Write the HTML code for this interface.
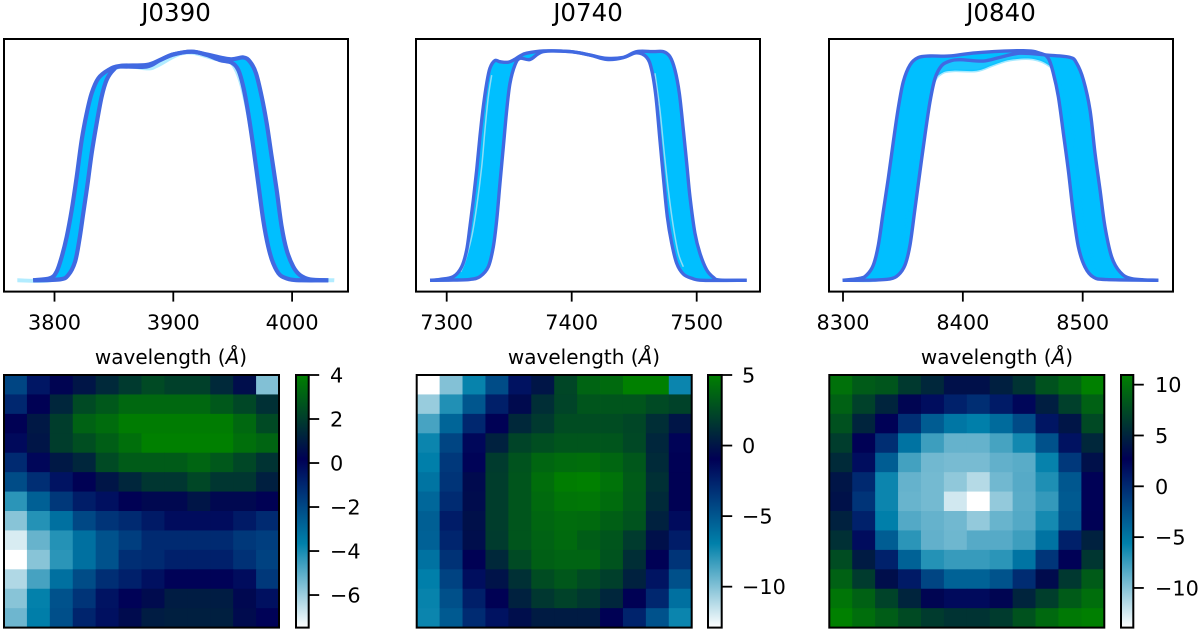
<!DOCTYPE html>
<html lang="en">
<head>
<meta charset="utf-8">
<title>Filter transmission curves and zero-point maps</title>
<style>
  html, body { margin: 0; padding: 0; background: #fff; }
  svg { display: block; }
  text { font-family: "DejaVu Sans", "Liberation Sans", sans-serif; fill: #000; }
</style>
</head>
<body>
<svg id="figure" width="1200" height="632" viewBox="0 0 1200 632" xmlns="http://www.w3.org/2000/svg">
  <rect x="0" y="0" width="1200" height="632" fill="#fff"/>
  <g id="marks"></g>

  <text x="176" y="21" font-size="24.5" text-anchor="middle">J0390</text>
  <text x="588" y="21" font-size="24.5" text-anchor="middle">J0740</text>
  <text x="1001" y="21" font-size="24.5" text-anchor="middle">J0840</text>

  <text x="171" y="364" font-size="20" text-anchor="middle">wavelength (<tspan font-style="italic">Å</tspan>)</text>
  <text x="584" y="364" font-size="20" text-anchor="middle">wavelength (<tspan font-style="italic">Å</tspan>)</text>
  <text x="997" y="364" font-size="20" text-anchor="middle">wavelength (<tspan font-style="italic">Å</tspan>)</text>
</svg>

<script>
// ---------- data: categories ----------
const filterNames = ['J0390', 'J0740', 'J0840'];

// ---------- data: x tick labels ----------
const xTicksJ0390 = [3800, 3900, 4000];
const xTicksJ0740 = [7300, 7400, 7500];
const xTicksJ0840 = [8300, 8400, 8500];

// ---------- data: colorbar ticks and ranges ----------
const cbarTicksJ0390 = [4, 2, 0, -2, -4, -6];
const cbarTicksJ0740 = [5, 0, -5, -10];
const cbarTicksJ0840 = [10, 5, 0, -5, -10];
const cbarRangeJ0390 = [-7.48, 4];
const cbarRangeJ0740 = [-12.9, 5];
const cbarRangeJ0840 = [-13.9, 10.95];

// ---------- data: J0390 transmission curves ----------
const lamJ0390A = [3782,3796.2,3801.8,3806.1,3810.3,3814.5,3818.7,3822.9,3827.1,3831.3,3836.9,3845.3,3855.1,3877.5,3889,3900,3915.5,3928,3939,3949.2,3954.7,3958.9,3963.1,3967.3,3971.5,3975.7,3979.9,3984.1,3989.8,3998.2,4008,4030.5];
const trnJ0390A = [0,.009,.038,.103,.19,.307,.452,.612,.728,.816,.881,.917,.935,.939,.961,.985,.997,.983,.961,.949,.917,.844,.728,.583,.423,.263,.147,.074,.023,.004,0,0];
const lamJ0390B = [3782,3804.6,3811.6,3817.3,3820.9,3824.2,3827.9,3831.3,3835.5,3839.7,3843.9,3849.5,3855.1,3877.5,3889,3900,3915.5,3928,3947.7,3958.9,3964.6,3969.6,3974.4,3978.6,3982.8,3987,3991.2,3995.4,4001,4006.6,4015.1,4030.5];
const trnJ0390B = [0,.004,.023,.081,.176,.292,.423,.554,.685,.801,.874,.917,.932,.932,.961,.985,.997,.985,.964,.972,.953,.903,.801,.685,.539,.394,.234,.132,.059,.023,.004,0];
const lamJ0390C = [3768.7,3799,3813,3821.5,3830,3838.3,3855,3877.6,3886,3902.8,3915.5,3933.7,3950.5,3961.8,3973,3984.2,3995.4,4035.5];
const trnJ0390C = [0,.003,.073,.349,.684,.859,.932,.924,.935,.982,.993,.968,.939,.757,.408,.101,.014,0];

// ---------- data: J0740 transmission curves ----------
const lamJ0740A = [7286.7,7294.6,7305.3,7312,7316,7318.6,7321.3,7324,7326.6,7329.3,7332,7334.6,7338.6,7342.6,7349.3,7354.6,7358.6,7364,7377.3,7398.7,7414.7,7428,7441.3,7452,7460,7464,7467.4,7470.6,7473.3,7476.5,7480,7484,7489.3,7496,7505.3,7540];
const trnJ0740A = [0,.004,.016,.059,.132,.233,.349,.479,.624,.754,.855,.921,.954,.949,.947,.96,.974,.986,.996,.993,.978,.964,.968,.988,.968,.913,.797,.609,.45,.276,.161,.074,.027,.009,0,0];
const lamJ0740B = [7286.7,7305.3,7318.6,7326.6,7333.3,7337.3,7340,7342.6,7345.3,7348,7350.6,7354.6,7358.6,7366.7,7377.3,7398.7,7414.7,7428,7441.3,7452,7465.3,7473.3,7478.6,7482.6,7486.1,7489.3,7492,7494.6,7498.6,7502.6,7508,7513.3,7518.6,7540];
const trnJ0740B = [0,.001,.004,.016,.059,.146,.262,.421,.58,.739,.855,.935,.964,.959,.993,.993,.978,.959,.967,.993,.993,.993,.971,.913,.812,.653,.508,.363,.204,.117,.045,.013,.001,0];
const lamJ0740C = [7311.2,7314.6,7320,7324,7328,7330.6,7333.3,7336];
const trnJ0740C = [.037,.081,.189,.32,.493,.653,.797,.891];
const lamJ0740D = [7466.6,7470.6,7473.8,7477.3,7481.3,7485.3,7489.3];
const trnJ0740D = [.899,.739,.566,.392,.233,.117,.059];

// ---------- data: J0840 transmission curves ----------
const lamJ0840A = [8299.7,8314.2,8319.8,8325.3,8329.5,8333.6,8337.8,8342,8346.1,8350.3,8355.9,8362.8,8372.6,8389.3,8411.5,8450.5,8464.4,8471.3,8475.5,8479.7,8483.9,8488,8492.2,8496.4,8501.9,8508.9,8520,8563.1];
const trnJ0840A = [0,.009,.023,.066,.153,.298,.443,.602,.747,.862,.935,.967,.974,.974,.988,.997,.986,.964,.899,.797,.638,.478,.29,.145,.058,.014,.003,0];
const lamJ0840B = [8299.7,8325.3,8339.2,8346.1,8351.7,8355.9,8360.1,8364.2,8368.4,8372.6,8376.8,8382.3,8389.3,8397.6,8417.1,8431,8447.7,8470,8489.4,8495,8500.6,8506.1,8510.3,8514.5,8518.6,8524.2,8531.2,8540.9,8563.1];
const trnJ0840B = [0,.001,.006,.023,.066,.153,.313,.472,.631,.776,.877,.932,.952,.958,.952,.968,.986,.978,.968,.942,.87,.739,.551,.391,.232,.101,.036,.007,0];
const lamJ0840C = [8299.7,8330.9,8344.8,8355.9,8367,8375.4,8382.3,8392,8411.5,8425.5,8439.4,8458.8,8472.7,8481,8492.2,8500.6,8507.5,8517.2,8563.1];
const trnJ0840C = [0,.003,.058,.348,.71,.855,.899,.91,.91,.935,.957,.961,.93,.87,.638,.29,.101,.014,0];

// ---------- data: heat maps (13 rows x 12 columns) ----------
const heatJ0390 = [
  [-1.9,-0.5,0.3,0.8,1.4,1.9,2.4,2.1,2.1,1.4,0.6,-5.6],
  [-1.0,0.2,1.3,2.4,2.8,3.3,3.3,3.3,3.3,2.8,2.3,1.6],
  [0.2,0.9,2.0,3.1,3.4,3.9,3.9,3.9,3.9,3.9,3.3,2.4],
  [-0.1,0.8,2.0,2.5,3.0,3.5,4,4,4,4,3.5,3.2],
  [-1.1,0.0,0.9,1.3,2.4,2.9,2.9,2.9,3.2,2.8,2.3,1.7],
  [-2.1,-1.2,-0.4,0.2,0.8,1.3,1.8,1.8,2.3,1.8,1.8,1.1],
  [-4.3,-2.7,-1.5,-0.7,-0.3,0.2,0.4,0.4,0.8,0.4,0.4,0.2],
  [-5.7,-4.2,-3.2,-2.0,-1.4,-1.1,-0.6,-0.2,-0.2,-0.2,-0.6,-1.1],
  [-6.9,-5.2,-4.2,-3.2,-2.3,-1.7,-1.1,-1.1,-1.1,-1.1,-1.5,-1.7],
  [-7.48,-5.7,-4.3,-3.2,-2.3,-1.2,-1.1,-0.8,-0.8,-0.8,-1.3,-1.8],
  [-6.3,-4.7,-3.2,-2.1,-1.2,-0.8,-0.3,0.1,0.1,0.1,-0.2,-1.5],
  [-5.7,-3.7,-2.3,-1.4,-0.4,0.1,0.5,1.0,1.0,1.0,0.4,-0.3],
  [-5.3,-3.6,-2.2,-0.9,-0.3,0.5,1.0,1.1,1.1,1.1,0.5,0.1]
];
const heatJ0740 = [
  [-12.9,-10,-7.1,-4.5,-1.8,0,2.3,3.7,4.0,5,5,-7.2],
  [-10.5,-7.7,-5,-2.4,-0.5,1.2,2.2,3.0,3.0,3.0,2.5,2.1],
  [-8.6,-5.7,-2.8,-1.0,0.9,1.7,2.6,2.6,2.6,2.3,1.2,0],
  [-7.2,-4.2,-1.3,0.6,2.2,2.7,3.0,3.0,3.0,2.4,0.8,-1.1],
  [-6.9,-3.6,-1.1,1.8,2.9,3.8,4.1,4.2,3.8,3.1,1.0,-1.0],
  [-6.4,-3.4,-0.5,1.9,3.0,4.2,4.9,5,4.4,3.3,1.3,-0.9],
  [-5.8,-3.0,-0.4,1.9,3.0,4.0,4.5,4.6,4.1,3.2,1.0,-0.9],
  [-5.4,-2.3,-0.2,1.9,3.0,3.8,4.1,4.0,3.5,2.9,0.6,-1.5],
  [-5.5,-2.7,-0.3,1.8,3.0,3.6,4.0,3.4,3.0,1.8,-0.2,-2.3],
  [-6.3,-3.3,-0.9,0.9,2.5,3.5,3.7,3.7,2.9,1.2,-1.0,-3.4],
  [-6.9,-4.1,-1.6,-0.1,1.3,2.6,3.1,2.5,2.0,0.6,-1.9,-4.7],
  [-7.1,-4.7,-2.4,-0.9,0.6,1.6,2.1,1.6,0.8,-0.9,-2.8,-6.2],
  [-7.2,-5.2,-3.0,-1.8,-0.3,0.3,0.3,0.3,-0.9,-2.6,-4.8,-7.2]
];
const heatJ0840 = [
  [10,8.6,8.2,6.4,5.2,3.7,3.7,4.7,6.0,8.0,9.2,10.95],
  [9,6.9,5,3,1.8,0.5,-0.3,0.9,2.3,4.6,6.8,9],
  [7.9,5,2.6,-0.4,-3.3,-5,-5.6,-4.3,-2.2,1.3,4.0,7.4],
  [6.6,2.7,-0.3,-4.8,-7.6,-8.9,-8.9,-7.9,-6.2,-2.6,1.5,5.2],
  [5.4,1.8,-3.4,-7.8,-9.3,-9.5,-9.5,-8.8,-8.5,-5.8,-1,3.7],
  [4,0,-6,-8.9,-9.4,-10.3,-11.5,-9.3,-8.4,-6.6,-3,2.6],
  [3.8,-0.7,-6,-9,-9.4,-12.4,-13.9,-10.4,-8.5,-7.3,-3.2,2.6],
  [4.8,0.5,-5.6,-8.3,-8.9,-9.3,-10.4,-9,-8.3,-6.3,-2.8,2.7],
  [5.8,1.9,-3.4,-7,-8.8,-9.2,-8.4,-8.4,-7.6,-4.8,0.6,4.8],
  [7.6,4.4,0.5,-3.7,-6.8,-7.4,-7.4,-7,-4.9,-0.8,2.6,6.2],
  [9,6.5,3.6,1,-1.8,-3.7,-3.7,-2.7,-0.2,3.4,6.3,8.6],
  [10.3,9,7,5,3,2,2,3,5,6.7,8.6,9.8],
  [10.95,9.8,8.7,7.5,6.5,6,6,6.5,8,9.5,10.5,10.9]
];

// ---------- layout (separate from data) ----------
const panels = [
  { name: filterNames[0], curveBox: [4, 348], xOrigin: 3800, xAt: 54.5, xPerUnit: 1.188, yTop: 51, lineW: 4.2, lam: [lamJ0390A, lamJ0390B], trn: [trnJ0390A, trnJ0390B], pale: [[lamJ0390C, trnJ0390C]], paleColor: '#00bfff', paleOpacity: 0.3, paleW: 4, bleed: false, ticks: xTicksJ0390, heat: heatJ0390, heatBox: [4, 279], cbarBox: [296, 308.7], cbarTicks: cbarTicksJ0390, range: cbarRangeJ0390, cbarLabelX: 330 },
  { name: filterNames[1], curveBox: [416, 760], xOrigin: 7300, xAt: 446.7, xPerUnit: 1.25, yTop: 50, lineW: 3.4, lam: [lamJ0740A, lamJ0740B], trn: [trnJ0740A, trnJ0740B], pale: [[lamJ0740C, trnJ0740C], [lamJ0740D, trnJ0740D]], paleColor: '#8fdcf6', paleOpacity: 1, paleW: 1.5, bleed: false, ticks: xTicksJ0740, heat: heatJ0740, heatBox: [416.7, 691.7], cbarBox: [708, 721.7], cbarTicks: cbarTicksJ0740, range: cbarRangeJ0740, cbarLabelX: 742 },
  { name: filterNames[2], curveBox: [829, 1173], xOrigin: 8300, xAt: 843, xPerUnit: 1.1985, yTop: 50, lineW: 3.4, lam: [lamJ0840A, lamJ0840B], trn: [trnJ0840A, trnJ0840B], pale: [[lamJ0840C, trnJ0840C]], paleColor: '#00bfff', paleOpacity: 0.35, paleW: 3, bleed: true, ticks: xTicksJ0840, heat: heatJ0840, heatBox: [829.3, 1104.3], cbarBox: [1121, 1133.3], cbarTicks: cbarTicksJ0840, range: cbarRangeJ0840, cbarLabelX: 1155 }
];
const curveTop = 39, curveBottom = 291.6, baselineY = 280.3;
const mapTop = 375, mapBottom = 627.6;
const frameW = 2;
const tickW = 1.8;
const tickFont = 20.8;
const SVGNS = 'http://www.w3.org/2000/svg';
const root = document.getElementById('marks');
const defs = document.createElementNS(SVGNS, 'defs');
root.appendChild(defs);

// ---------- helpers ----------
function make(tag, parent) {
  const el = document.createElementNS(SVGNS, tag);
  parent.appendChild(el);
  return el;
}
function clamp01(v) { return Math.max(0, Math.min(1, v)); }
// matplotlib ocean_r colormap: t = 0 -> white, t = 1 -> green
function oceanR(t) {
  const x = 1 - clamp01(t);
  const r = clamp01(3 * x - 2);
  const g = clamp01(Math.abs((3 * x - 1) / 2));
  const b = clamp01(x);
  return 'rgb(' + Math.round(r * 255) + ',' + Math.round(g * 255) + ',' + Math.round(b * 255) + ')';
}
function xScale(p, lam) { return p.xAt + (lam - p.xOrigin) * p.xPerUnit; }
function yScale(p, trn) { return baselineY - trn * (baselineY - p.yTop); }
function smoothPath(pts) {
  let d = '';
  for (let i = 0; i < pts.length - 1; i++) {
    const p0 = pts[Math.max(0, i - 1)], p1 = pts[i], p2 = pts[i + 1], p3 = pts[Math.min(pts.length - 1, i + 2)];
    const c1x = p1[0] + (p2[0] - p0[0]) / 6, c1y = p1[1] + (p2[1] - p0[1]) / 6;
    const c2x = p2[0] - (p3[0] - p1[0]) / 6, c2y = p2[1] - (p3[1] - p1[1]) / 6;
    d += ' C' + c1x.toFixed(2) + ' ' + c1y.toFixed(2) + ' ' + c2x.toFixed(2) + ' ' + c2y.toFixed(2) + ' ' + p2[0].toFixed(2) + ' ' + p2[1].toFixed(2);
  }
  return 'M' + pts[0][0].toFixed(2) + ' ' + pts[0][1].toFixed(2) + d;
}
function toPoints(p, lams, trns) {
  return lams.map(function (l, i) { return [xScale(p, l), yScale(p, trns[i])]; });
}
function minusLabel(v) { return v < 0 ? '\u2212' + Math.abs(v) : String(v); }

// ---------- draw ----------
panels.forEach(function (p) {
  const tag = p.name.toLowerCase();

  // curve panel
  const curveGroup = make('g', root);
  
  

  const ptsA = toPoints(p, p.lam[0], p.trn[0]);
  const ptsB = toPoints(p, p.lam[1], p.trn[1]);

  const band = make('path', curveGroup);
  
  
  band.setAttribute('d', smoothPath(ptsA) + ' L' + smoothPath(ptsB.slice().reverse()).slice(1) + ' Z');
  band.setAttribute('fill', '#00bfff');
  band.setAttribute('fill-rule', 'nonzero');

  if (p.bleed) {
    const ptsDip = toPoints(p, p.pale[0][0], p.pale[0][1]);
    const dip = make('path', curveGroup);
    
    
    dip.setAttribute('d', smoothPath(ptsB) + ' L' + smoothPath(ptsDip.slice().reverse()).slice(1) + ' Z');
    dip.setAttribute('fill', '#00bfff');
    dip.setAttribute('fill-opacity', '0.9');
  }

  p.pale.forEach(function (series) {
    const mid = make('path', curveGroup);
    
    
    mid.setAttribute('d', smoothPath(toPoints(p, series[0], series[1])));
    mid.setAttribute('fill', 'none');
    mid.setAttribute('stroke', p.paleColor);
    mid.setAttribute('stroke-opacity', p.paleOpacity);
    mid.setAttribute('stroke-width', p.paleW);
  });

  [ptsA, ptsB].forEach(function (pts) {
    const line = make('path', curveGroup);
    
    
    line.setAttribute('d', smoothPath(pts));
    line.setAttribute('fill', 'none');
    line.setAttribute('stroke', '#4169e1');
    line.setAttribute('stroke-width', p.lineW);
    line.setAttribute('stroke-linejoin', 'round');
  });

  const frame = make('rect', curveGroup);
  
  
  frame.setAttribute('x', p.curveBox[0]);
  frame.setAttribute('y', curveTop);
  frame.setAttribute('width', p.curveBox[1] - p.curveBox[0]);
  frame.setAttribute('height', curveBottom - curveTop);
  frame.setAttribute('fill', 'none');
  frame.setAttribute('stroke', '#000');
  frame.setAttribute('stroke-width', frameW);

  p.ticks.forEach(function (t) {
    const tx = xScale(p, t);
    const tick = make('line', curveGroup);
    
    
    tick.setAttribute('x1', tx);
    tick.setAttribute('x2', tx);
    tick.setAttribute('y1', curveBottom);
    tick.setAttribute('y2', curveBottom + 10);
    tick.setAttribute('stroke', '#000');
    tick.setAttribute('stroke-width', tickW);

    const label = make('text', curveGroup);
    
    
    label.setAttribute('x', tx);
    label.setAttribute('y', 329.3);
    label.setAttribute('font-size', tickFont);
    label.setAttribute('text-anchor', 'middle');
    label.textContent = String(t);
  });

  // heat map
  const heatGroup = make('g', root);
  
  
  const lo = p.range[0], hi = p.range[1];
  const nRows = p.heat.length, nCols = p.heat[0].length;
  const cw = (p.heatBox[1] - p.heatBox[0]) / nCols;
  const ch = (mapBottom - mapTop) / nRows;
  p.heat.forEach(function (row, r) {
    row.forEach(function (v, c) {
      const cell = make('rect', heatGroup);
      
      
      cell.setAttribute('x', p.heatBox[0] + c * cw);
      cell.setAttribute('y', mapTop + r * ch);
      cell.setAttribute('width', cw + 0.4);
      cell.setAttribute('height', ch + 0.4);
      cell.setAttribute('fill', oceanR((v - lo) / (hi - lo)));
    });
  });
  const heatFrame = make('rect', heatGroup);
  
  
  heatFrame.setAttribute('x', p.heatBox[0]);
  heatFrame.setAttribute('y', mapTop);
  heatFrame.setAttribute('width', p.heatBox[1] - p.heatBox[0]);
  heatFrame.setAttribute('height', mapBottom - mapTop);
  heatFrame.setAttribute('fill', 'none');
  heatFrame.setAttribute('stroke', '#000');
  heatFrame.setAttribute('stroke-width', frameW);

  // colorbar
  const cbarGroup = make('g', root);
  
  
  const grad = make('linearGradient', defs);
  grad.setAttribute('id', 'cbar-' + tag);
  grad.setAttribute('x1', '0');
  grad.setAttribute('y1', '1');
  grad.setAttribute('x2', '0');
  grad.setAttribute('y2', '0');
  [0, 1 / 3, 2 / 3, 1].forEach(function (t) {
    const stop = make('stop', grad);
    stop.setAttribute('offset', t);
    stop.setAttribute('stop-color', oceanR(t));
  });
  const bar = make('rect', cbarGroup);
  
  
  bar.setAttribute('x', p.cbarBox[0]);
  bar.setAttribute('y', mapTop);
  bar.setAttribute('width', p.cbarBox[1] - p.cbarBox[0]);
  bar.setAttribute('height', mapBottom - mapTop);
  bar.setAttribute('fill', 'url(#cbar-' + tag + ')');
  bar.setAttribute('stroke', '#000');
  bar.setAttribute('stroke-width', frameW);

  function cbarY(v) { return mapBottom - (v - lo) / (hi - lo) * (mapBottom - mapTop); }
  p.cbarTicks.forEach(function (v) {
    const ty = cbarY(v);
    const tick = make('line', cbarGroup);
    
    
    tick.setAttribute('x1', p.cbarBox[1]);
    tick.setAttribute('x2', p.cbarBox[1] + 10.5);
    tick.setAttribute('y1', ty);
    tick.setAttribute('y2', ty);
    tick.setAttribute('stroke', '#000');
    tick.setAttribute('stroke-width', tickW);

    const label = make('text', cbarGroup);
    
    
    label.setAttribute('x', p.cbarLabelX);
    label.setAttribute('y', ty + 7.5);
    label.setAttribute('font-size', tickFont);
    label.textContent = minusLabel(v);
  });
});
</script>
</body>
</html>
